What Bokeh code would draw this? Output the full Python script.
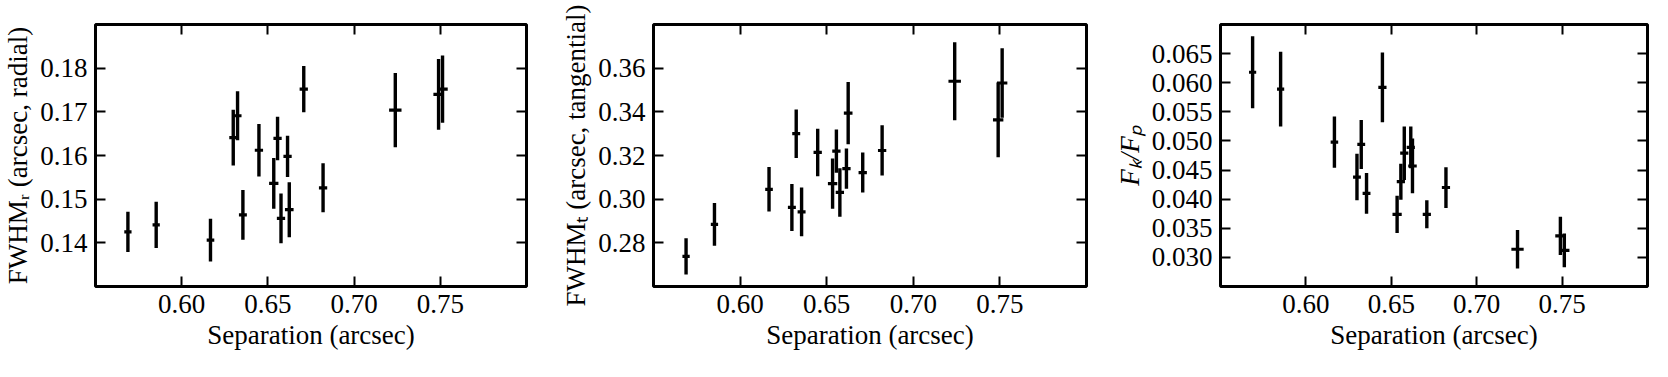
from bokeh.plotting import figure
from bokeh.layouts import row
from bokeh.models import (ColumnDataSource, FixedTicker, PrintfTickFormatter,
                          LinearAxis, CustomJSTickFormatter, Range1d)
from bokeh.embed import file_html
from bokeh.resources import INLINE

# ---- data ----
separation = [0.5688, 0.5852, 0.6167, 0.6299, 0.6324, 0.6355, 0.6448, 0.6534, 0.6556,
              0.6576, 0.6614, 0.6624, 0.6708, 0.6820, 0.7239, 0.7490, 0.7513]
separation_err = [0.0021, 0.0021, 0.0022, 0.0023, 0.0023, 0.0023, 0.0024, 0.0027, 0.0024,
                  0.0024, 0.0024, 0.0025, 0.0024, 0.0024, 0.0036, 0.0030, 0.0030]

fwhm_radial = [0.1425, 0.1441, 0.1406, 0.1641, 0.1691, 0.1464, 0.1612, 0.1536, 0.1639,
               0.1456, 0.1598, 0.1476, 0.1752, 0.1526, 0.1704, 0.1740, 0.1752]
fwhm_radial_err = [0.0046, 0.0053, 0.0049, 0.0064, 0.0056, 0.0057, 0.0060, 0.0058, 0.0050,
                   0.0057, 0.0047, 0.0063, 0.0053, 0.0056, 0.0085, 0.0081, 0.0077]

fwhm_tangential = [0.2738, 0.2885, 0.3045, 0.2962, 0.3300, 0.2942, 0.3214, 0.3071, 0.3220,
                   0.3031, 0.3140, 0.3394, 0.3122, 0.3223, 0.3540, 0.3363, 0.3532]
fwhm_tangential_err = [0.0083, 0.0098, 0.0102, 0.0108, 0.0111, 0.0112, 0.0109, 0.0115, 0.0099,
                       0.0111, 0.0092, 0.0143, 0.0092, 0.0115, 0.0179, 0.0171, 0.0159]

flux_ratio = [0.0618, 0.0589, 0.0498, 0.0438, 0.0494, 0.0410, 0.0592, 0.0374, 0.0430,
              0.0479, 0.0489, 0.0457, 0.0374, 0.0420, 0.0314, 0.0337, 0.0312]
flux_ratio_err = [0.0062, 0.0064, 0.0044, 0.0040, 0.0042, 0.0035, 0.0060, 0.0032, 0.0031,
                  0.0046, 0.0036, 0.0047, 0.0024, 0.0035, 0.0033, 0.0033, 0.0029]

x_ticks = [0.60, 0.65, 0.70, 0.75]
radial_ticks = [0.14, 0.15, 0.16, 0.17, 0.18]
tangential_ticks = [0.28, 0.30, 0.32, 0.34, 0.36]
flux_ticks = [0.030, 0.035, 0.040, 0.045, 0.050, 0.055, 0.060, 0.065]

x_label = "Separation (arcsec)"
radial_label = "FWHM\u1d63 (arcsec, radial)"
tangential_label = "FWHM\u209c (arcsec, tangential)"
flux_label = "F\u2096/F\u209a"

FONT = "Liberation Serif"
FS = "27px"


def style_axis(ax, ticks, fmt, label=None, italic=False, show_labels=True):
    ax.ticker = FixedTicker(ticks=ticks)
    ax.axis_line_color = None
    ax.major_tick_in = 10
    ax.major_tick_out = 0
    ax.major_tick_line_width = 2
    ax.major_tick_line_color = "black"
    ax.minor_tick_line_color = None
    if show_labels:
        ax.formatter = PrintfTickFormatter(format=fmt)
        ax.major_label_text_font = FONT
        ax.major_label_text_font_size = FS
        ax.major_label_text_color = "black"
        ax.major_label_standoff = 8
    else:
        ax.formatter = CustomJSTickFormatter(code="return ''")
        ax.major_label_standoff = 0
    if label is not None:
        ax.axis_label = label
        ax.axis_label_text_font = FONT
        ax.axis_label_text_font_size = FS
        ax.axis_label_text_color = "black"
        ax.axis_label_text_font_style = "italic" if italic else "normal"
        ax.axis_label_standoff = 4


def make_panel(yvals, yerr, yticks, yfmt, ylabel, yrange, width, left, right, italic=False):
    src = ColumnDataSource(dict(
        x=separation, y=yvals,
        ylo=[v - e for v, e in zip(yvals, yerr)],
        yhi=[v + e for v, e in zip(yvals, yerr)],
        xlo=[v - e for v, e in zip(separation, separation_err)],
        xhi=[v + e for v, e in zip(separation, separation_err)],
    ))
    p = figure(width=width, height=362,
               x_range=Range1d(0.55, 0.80), y_range=Range1d(*yrange),
               output_backend="svg", toolbar_location=None,
               min_border_left=left, min_border_right=right,
               min_border_top=24, min_border_bottom=76)
    p.segment(x0="x", y0="ylo", x1="x", y1="yhi", source=src,
              line_color="black", line_width=3.4)
    p.segment(x0="xlo", y0="y", x1="xhi", y1="y", source=src,
              line_color="black", line_width=3.2)
    p.xgrid.visible = False
    p.ygrid.visible = False
    p.outline_line_color = "black"
    p.outline_line_width = 3
    p.outline_line_alpha = 1.0
    p.background_fill_color = "white"
    p.border_fill_color = "white"

    style_axis(p.xaxis[0], x_ticks, "%.2f", x_label)
    style_axis(p.yaxis[0], yticks, yfmt, ylabel, italic=italic)

    top = LinearAxis()
    style_axis(top, x_ticks, "%.2f", show_labels=False)
    p.add_layout(top, "above")
    rgt = LinearAxis()
    style_axis(rgt, yticks, yfmt, show_labels=False)
    p.add_layout(rgt, "right")
    return p


p1 = make_panel(fwhm_radial, fwhm_radial_err, radial_ticks, "%.2f", radial_label,
                (0.13, 0.19), 558, 93, 32)
p2 = make_panel(fwhm_tangential, fwhm_tangential_err, tangential_ticks, "%.2f", tangential_label,
                (0.26, 0.38), 553, 95, 25)
p3 = make_panel(flux_ratio, flux_ratio_err, flux_ticks, "%.3f", flux_label,
                (0.025, 0.070), 541, 107, 5, italic=True)

layout = row(p1, p2, p3)
open("out.html", "w").write(file_html(layout, INLINE))
